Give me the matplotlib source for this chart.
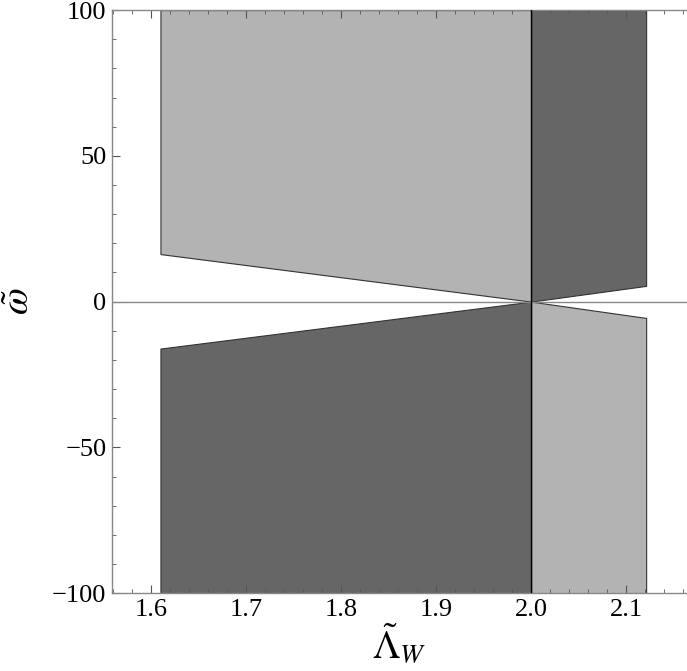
import numpy as np
import matplotlib.pyplot as plt
from matplotlib.ticker import MultipleLocator

plt.rcParams['font.family'] = ['Liberation Serif', 'DejaVu Serif']
plt.rcParams['mathtext.fontset'] = 'stix'

# region boundaries
lam_left = [1.61, 2.0]
omega_left_upper = [16.3, 0.0]
omega_left_lower = [-16.1, 0.0]
lam_right = [2.0, 2.121]
omega_right_upper = [0.0, 5.4]
omega_right_lower = [0.0, -5.6]
omega_max = 100
omega_min = -100

light = '#b3b3b3'
dark = '#666666'
edge = '#333333'

fig = plt.figure(figsize=(6.87, 6.71), dpi=100)
ax = fig.add_axes([0.163, 0.116, 0.837, 0.869])

ax.fill_between(lam_left, omega_left_upper, omega_max, facecolor=light, edgecolor=edge, linewidth=0.8)
ax.fill_between(lam_left, omega_min, omega_left_lower, facecolor=dark, edgecolor=edge, linewidth=0.8)
ax.fill_between(lam_right, omega_right_upper, omega_max, facecolor=dark, edgecolor=edge, linewidth=0.8)
ax.fill_between(lam_right, omega_min, omega_right_lower, facecolor=light, edgecolor=edge, linewidth=0.8)

ax.axhline(0, color='#888888', linewidth=1.0, zorder=3)
ax.axvline(2.0, color='black', linewidth=1.0, zorder=3)

ax.set_xlim(1.559, 2.164)
ax.set_ylim(-100, 100)

ax.xaxis.set_major_locator(MultipleLocator(0.1))
ax.xaxis.set_minor_locator(MultipleLocator(0.02))
ax.yaxis.set_major_locator(MultipleLocator(50))
ax.yaxis.set_minor_locator(MultipleLocator(10))
ax.tick_params(which='both', direction='in', top=True, right=False, colors='#555555',
               labelcolor='black', labelsize=19)
ax.tick_params(which='major', length=6, width=0.8, pad=4)
ax.tick_params(which='minor', length=3, width=0.6)
ax.xaxis.set_major_formatter(plt.FuncFormatter(lambda v, p: f'{v:.1f}'))
ax.yaxis.set_major_formatter(plt.FuncFormatter(
    lambda v, p: ('\u2212' + str(int(abs(v)))) if v < 0 else str(int(v))))

for s in ['left', 'bottom', 'top']:
    ax.spines[s].set_color('#888888')
    ax.spines[s].set_linewidth(1.0)
ax.spines['right'].set_visible(False)

ax.set_xlabel(r'$\tilde{\Lambda}_W$', fontsize=28, labelpad=2)
ax.set_ylabel(r'$\tilde{\omega}$', fontsize=28, labelpad=10)

fig.savefig('out.png', dpi=100)
